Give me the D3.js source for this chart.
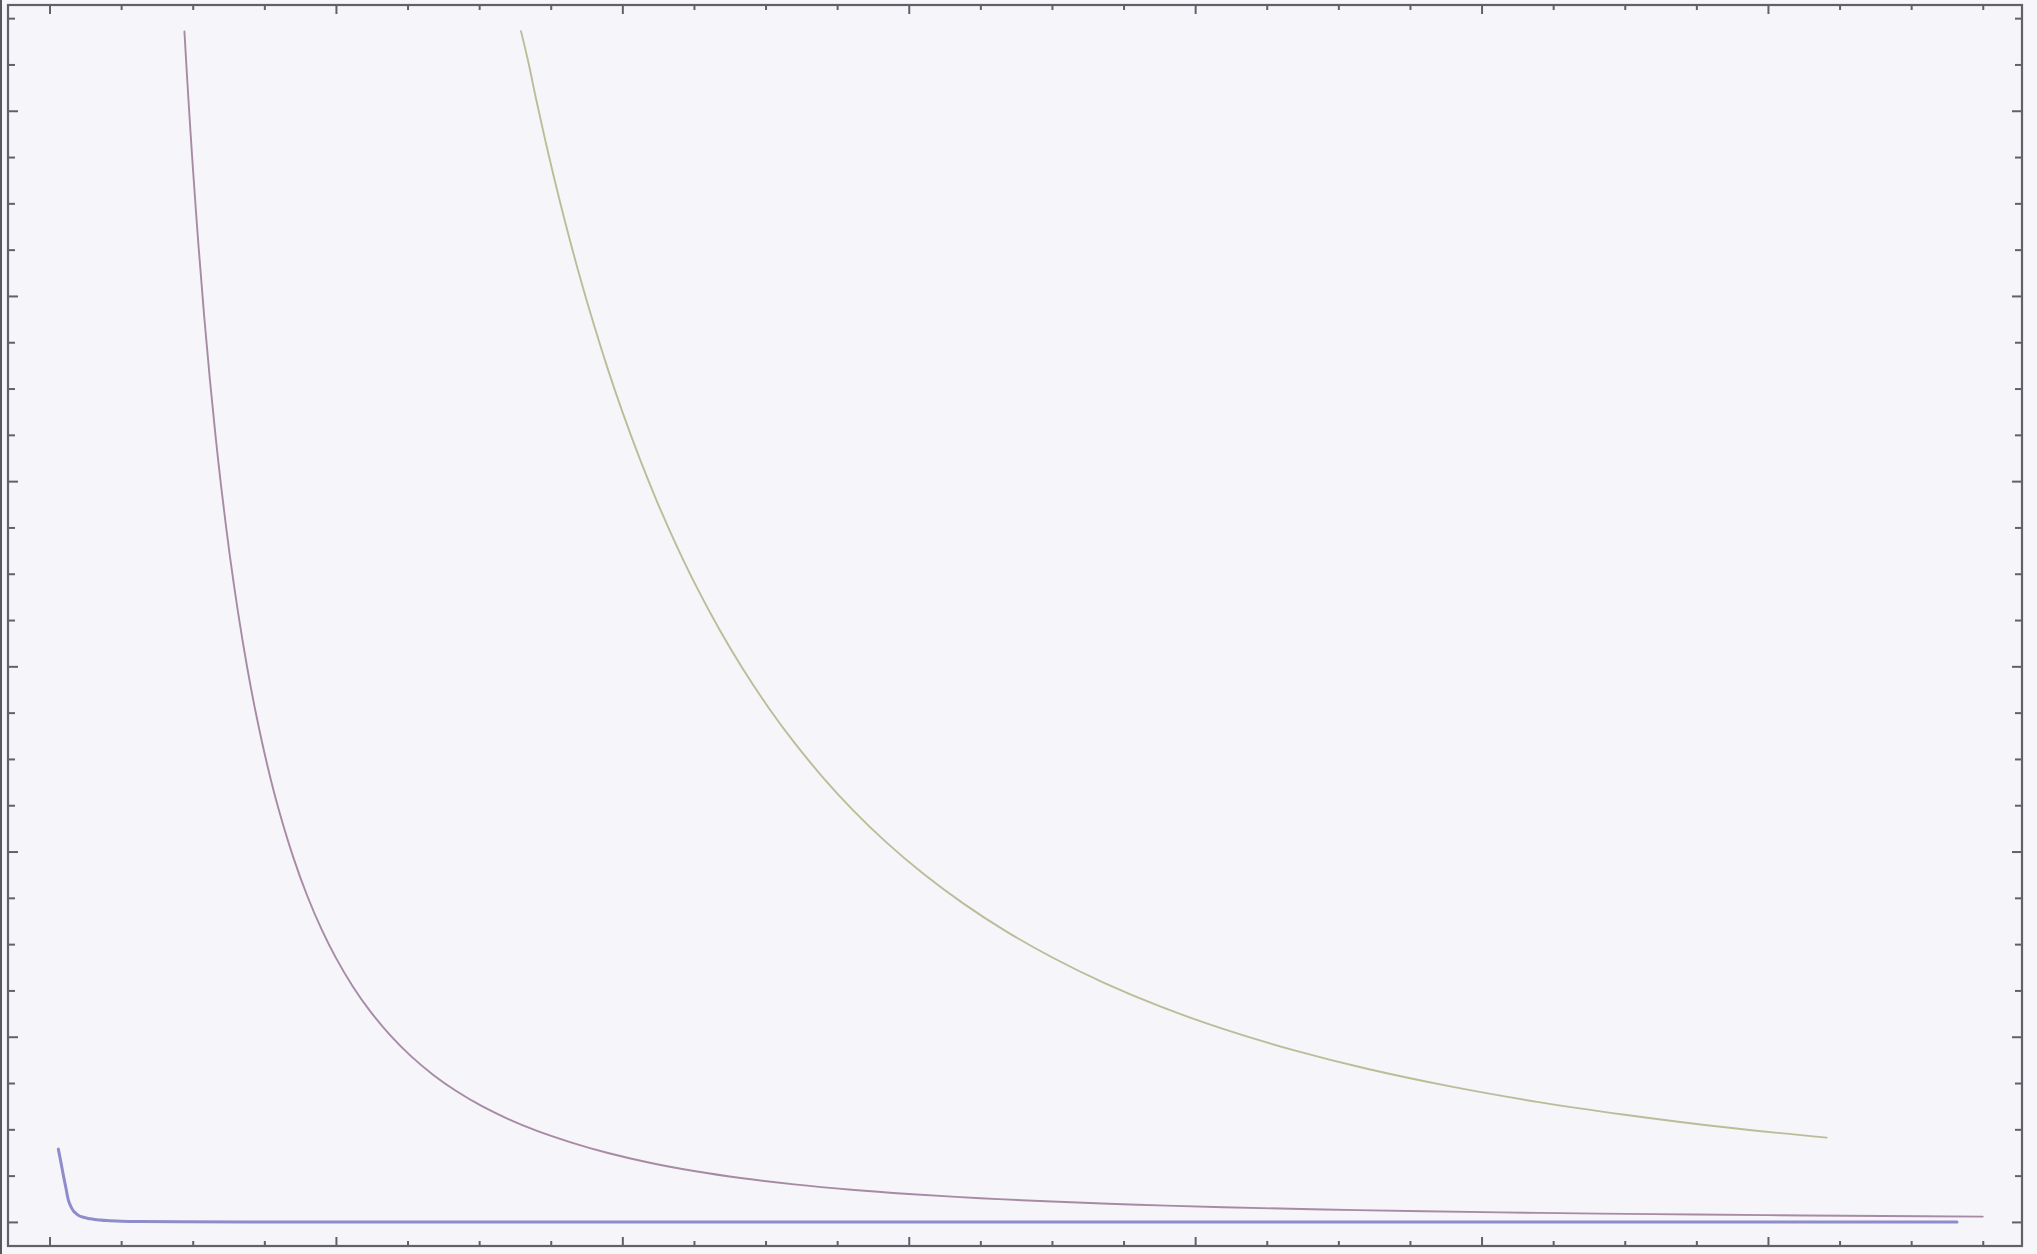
<!DOCTYPE html>
<html>
<head>
<meta charset="utf-8">
<script src="https://cdn.jsdelivr.net/npm/d3@7"></script>
<style>
  html, body { margin: 0; padding: 0; background: #f7f6fa; }
  svg { display: block; }
</style>
</head>
<body>
<svg id="chart" width="2037" height="1254"></svg>
<script>
// Three decaying curves, read as (x, y) pairs
const blueX   = [0.0307, 0.040, 0.048, 0.057, 0.0656, 0.0715, 0.0775, 0.085, 0.095, 0.105, 0.118, 0.135, 0.153, 0.175, 0.200, 0.250, 0.316, 0.450, 0.700, 1.20, 2.50, 4.50, 6.66];
const blueY   = [0.393, 0.320, 0.254, 0.185, 0.119, 0.093, 0.074, 0.056, 0.042, 0.032, 0.025, 0.019, 0.015, 0.011, 0.0075, 0.004, 0.002, 0.001, 0.0, 0.0, 0.0, 0.0, 0.0];

const purpleX = [0.471, 0.48, 0.49, 0.50, 0.52, 0.54, 0.56, 0.58, 0.60, 0.63, 0.66, 0.69, 0.72, 0.76, 0.80, 0.85, 0.90, 0.95, 1.00, 1.06, 1.12, 1.19, 1.26, 1.34, 1.42, 1.51, 1.60, 1.70, 1.82, 1.95, 2.10, 2.25, 2.42, 2.60, 2.80, 3.00, 3.25, 3.50, 3.80, 4.10, 4.45, 4.80, 5.20, 5.60, 6.00, 6.40, 6.75];
const purpleY = [6.428, 6.189, 5.939, 5.704, 5.274, 4.890, 4.547, 4.239, 3.961, 3.593, 3.274, 2.995, 2.751, 2.469, 2.228, 1.974, 1.760, 1.580, 1.426, 1.269, 1.137, 1.007, 0.898, 0.794, 0.707, 0.625, 0.557, 0.493, 0.430, 0.372, 0.318, 0.275, 0.236, 0.203, 0.174, 0.151, 0.128, 0.110, 0.093, 0.0795, 0.0672, 0.0575, 0.0488, 0.0420, 0.0365, 0.0320, 0.0287];

const yellowX = [1.646, 1.67, 1.70, 1.73, 1.76, 1.80, 1.85, 1.90, 1.95, 2.00, 2.06, 2.12, 2.19, 2.26, 2.34, 2.42, 2.51, 2.60, 2.70, 2.80, 2.92, 3.05, 3.19, 3.34, 3.50, 3.68, 3.88, 4.10, 4.35, 4.60, 4.90, 5.20, 5.50, 5.85, 6.205];
const yellowY = [6.430, 6.275, 6.055, 5.847, 5.649, 5.401, 5.113, 4.848, 4.602, 4.375, 4.124, 3.894, 3.649, 3.426, 3.196, 2.988, 2.778, 2.589, 2.401, 2.232, 2.052, 1.881, 1.720, 1.569, 1.429, 1.292, 1.162, 1.041, 0.925, 0.827, 0.729, 0.647, 0.579, 0.511, 0.455];

// Frame tick values (no labels)
const xMajorTicks = [0, 1, 2, 3, 4, 5, 6];
const xMinorTicks = d3.range(0, 6.8, 0.25).filter(v => Math.abs(v - Math.round(v)) > 1e-6);
const yMajorTicks = [0, 1, 2, 3, 4, 5, 6];
const yMinorTicks = d3.range(0, 6.6, 0.25).filter(v => Math.abs(v - Math.round(v)) > 1e-6);

const svg = d3.select("#chart");
const W = 2037, H = 1254;
const frame = { left: 8, right: 2022, top: 5, bottom: 1246 };

const x = d3.scaleLinear().domain([-0.145, 6.887]).range([frame.left, frame.right]);
const y = d3.scaleLinear().domain([-0.13, 6.571]).range([frame.bottom, frame.top]);

svg.append("rect").attr("x", 0).attr("y", 0).attr("width", W).attr("height", H).attr("fill", "#f7f6fa");
svg.append("rect").attr("x", 0).attr("y", 0).attr("width", 2).attr("height", H).attr("fill", "#5a5660");

svg.append("rect")
  .attr("x", frame.left).attr("y", frame.top)
  .attr("width", frame.right - frame.left).attr("height", frame.bottom - frame.top)
  .attr("fill", "#f6f5fa");

// Curves
const series = [
  { xs: blueX,   ys: blueY,   color: "#8e8cca", width: 3 },
  { xs: purpleX, ys: purpleY, color: "#a78aa5", width: 1.9 },
  { xs: yellowX, ys: yellowY, color: "#bdbc98", width: 1.9 }
];
const line = d3.line().x(d => x(d[0])).y(d => y(d[1])).curve(d3.curveCatmullRom.alpha(0.5));
series.forEach(s => {
  svg.append("path")
    .datum(s.xs.map((v, i) => [v, s.ys[i]]))
    .attr("d", line)
    .attr("fill", "none")
    .attr("stroke", s.color)
    .attr("stroke-width", s.width)
    .attr("stroke-linejoin", "round")
    .attr("stroke-linecap", "round");
});

// Frame ticks pointing inward on all four sides
const tickColor = "#636167";
function frameAxis(axisFn, scale, values, size, transform) {
  const g = svg.append("g")
    .attr("transform", transform)
    .call(axisFn(scale).tickValues(values).tickSize(size).tickFormat(""));
  g.select(".domain").remove();
  g.selectAll(".tick line").attr("stroke", tickColor).attr("stroke-width", 2);
}
frameAxis(d3.axisTop,    x, xMajorTicks, 9, `translate(0,${frame.bottom})`);
frameAxis(d3.axisTop,    x, xMinorTicks, 5, `translate(0,${frame.bottom})`);
frameAxis(d3.axisBottom, x, xMajorTicks, 9, `translate(0,${frame.top})`);
frameAxis(d3.axisBottom, x, xMinorTicks, 5, `translate(0,${frame.top})`);
frameAxis(d3.axisRight,  y, yMajorTicks, 10, `translate(${frame.left},0)`);
frameAxis(d3.axisRight,  y, yMinorTicks, 7,  `translate(${frame.left},0)`);
frameAxis(d3.axisLeft,   y, yMajorTicks, 10, `translate(${frame.right},0)`);
frameAxis(d3.axisLeft,   y, yMinorTicks, 7,  `translate(${frame.right},0)`);

svg.append("rect")
  .attr("x", frame.left).attr("y", frame.top)
  .attr("width", frame.right - frame.left).attr("height", frame.bottom - frame.top)
  .attr("fill", "none").attr("stroke", "#636167").attr("stroke-width", 2.2);
</script>
</body>
</html>
